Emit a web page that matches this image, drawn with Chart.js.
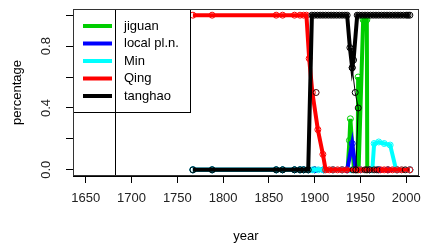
<!DOCTYPE html>
<html>
<head>
<meta charset="utf-8">
<script src="https://cdn.jsdelivr.net/npm/chart.js@4"></script>
<style>
  html, body { margin: 0; padding: 0; background: #fff; }
</style>
</head>
<body>
<canvas id="chart" width="425" height="244"></canvas>
<script>
// tick labels
const xTicks = [1650, 1700, 1750, 1800, 1850, 1900, 1950, 2000];
const yTicks = [0, 0.2, 0.4, 0.6, 0.8, 1.0];
const yTickLabels = ['0.0', '', '0.4', '', '0.8', ''];

const seriesNames = ['jiguan', 'local pl.n.', 'Min', 'Qing', 'tanghao'];
const seriesColors = ['#00cd00', '#0000ff', '#00ffff', '#ff0000', '#000000'];
const refYear = 1682;

// jiguan
const jiguanYears = [1767, 1788, 1858, 1865, 1878, 1884, 1888, 1893, 1900, 1910, 1920, 1930, 1936, 1938, 1939, 1943, 1947, 1947.5, 1948, 1953, 1957, 1957.5, 1960, 1970, 1980, 1990, 2004];
const jiguanValues = [0, 0, 0, 0, 0, 0, 0, 0, 0, 0, 0, 0, 0, 0.19, 0.33, 0, 0, 0.6, 0, 0.97, 0.97, 0, 0, 0, 0, 0, 0];

// local pl.n.
const localYears = [1767, 1788, 1858, 1865, 1878, 1884, 1888, 1893, 1900, 1910, 1920, 1930, 1935.5, 1941, 1945, 1950, 1960, 1970, 1980, 1990, 2004];
const localValues = [0, 0, 0, 0, 0, 0, 0, 0, 0, 0, 0, 0, 0, 0.17, 0, 0, 0, 0, 0, 0, 0];

// Min
const minYears = [1767, 1788, 1858, 1865, 1878, 1884, 1888, 1893, 1898, 1904, 1910, 1920, 1930, 1940, 1950, 1963, 1965, 1970, 1976, 1982.5, 1989, 1995, 2004];
const minValues = [0, 0, 0, 0, 0, 0, 0, 0, 0, 0, 0, 0, 0, 0, 0, 0, 0.17, 0.18, 0.17, 0.16, 0, 0, 0];

// Qing
const qingYears = [1767, 1788, 1858, 1865, 1878, 1884, 1888, 1891, 1894, 1897.5, 1903.5, 1909, 1912, 1916, 1920, 1925, 1930, 1935, 1942, 1946, 1950, 1955, 1957, 1960, 1965, 1968, 1972, 1976, 1980, 1985, 1990, 1995, 1999, 2004];
const qingValues = [1, 1, 1, 1, 1, 1, 1, 1, 0.72, 0.5, 0.26, 0.1, 0, 0, 0, 0, 0, 0, 0, 0, 0, 0, 0, 0, 0, 0, 0, 0, 0, 0, 0, 0, 0, 0];
const qingDarkPoints = [1942, 1955, 1957, 1960, 1965, 1968, 1999];

// tanghao
const tanghaoYears = [1767, 1788, 1858, 1865, 1878, 1884, 1888, 1893, 1897, 1900, 1903, 1906, 1909, 1912, 1915, 1918, 1921, 1924, 1927, 1930, 1933, 1935.5, 1938.5, 1941, 1942.5, 1946.5, 1949, 1952, 1955, 1958, 1961, 1964, 1967, 1970, 1973, 1976, 1979, 1982, 1985, 1988, 1991, 1994, 1997, 2000, 2002, 2004];
const tanghaoValues = [0, 0, 0, 0, 0, 0, 0, 0, 1, 1, 1, 1, 1, 1, 1, 1, 1, 1, 1, 1, 1, 1, 0.79, 0.66, 0.71, 1, 1, 1, 1, 1, 1, 1, 1, 1, 1, 1, 1, 1, 1, 1, 1, 1, 1, 1, 1, 1];

// thin extra trace (loose points)
const extraYears = [1901.6, 1901.6, 1941, 1944.3, 1947.6, 1945];
const extraValues = [0.5, null, 0.66, 0.5, 0.4, 0];

function pts(xs, ys) {
  return xs.map((x, i) => ({ x, y: ys[i] }));
}

const FONT = '"Liberation Sans", Arial, Helvetica, sans-serif';
Chart.defaults.font.family = FONT;
Chart.defaults.font.size = 13;
Chart.defaults.color = '#000';

function seriesDataset(i, xs, ys, order) {
  return {
    label: seriesNames[i],
    data: pts(xs, ys),
    borderColor: seriesColors[i],
    borderWidth: 4,
    pointRadius: 3,
    pointBorderWidth: 1,
    pointBorderColor: seriesColors[i],
    pointBackgroundColor: 'rgba(0,0,0,0)',
    tension: 0,
    order
  };
}

const qingSet = seriesDataset(3, qingYears, qingValues, 2);
qingSet.pointBorderColor = c => (c.raw && qingDarkPoints.includes(c.raw.x)) ? '#300000' : '#ff0000';

const rBox = {
  id: 'rBox',
  afterDraw(chart) {
    const { ctx, chartArea: a, scales } = chart;
    ctx.save();
    // legend box
    const lx = a.left, ly = a.top, lw = 117, lh = 103;
    ctx.fillStyle = '#fff';
    ctx.fillRect(lx, ly, lw, lh);
    ctx.strokeStyle = '#000';
    ctx.lineWidth = 1;
    ctx.strokeRect(lx + 0.5, ly + 0.5, lw, lh);
    ctx.font = '13px ' + FONT;
    ctx.textBaseline = 'middle';
    seriesNames.forEach((name, i) => {
      const y = ly + 17 + i * 17.5;
      ctx.strokeStyle = seriesColors[i];
      ctx.lineWidth = 4;
      ctx.beginPath();
      ctx.moveTo(lx + 10, y);
      ctx.lineTo(lx + 39, y);
      ctx.stroke();
      ctx.fillStyle = '#000';
      ctx.fillText(name, lx + 51, y);
    });
    // reference line
    const vx = Math.round(scales.x.getPixelForValue(refYear)) + 0.5;
    ctx.strokeStyle = '#000';
    ctx.lineWidth = 1;
    ctx.beginPath();
    ctx.moveTo(vx, a.top);
    ctx.lineTo(vx, a.bottom);
    ctx.stroke();
    // plot box
    ctx.strokeStyle = '#333';
    ctx.strokeRect(a.left + 0.5, a.top + 0.5, a.width - 1, a.height - 1);
    ctx.restore();
  }
};

new Chart(document.getElementById('chart'), {
  type: 'line',
  data: {
    datasets: [
      seriesDataset(0, jiguanYears, jiguanValues, 5),
      seriesDataset(1, localYears, localValues, 4),
      seriesDataset(2, minYears, minValues, 3),
      qingSet,
      seriesDataset(4, tanghaoYears, tanghaoValues, 1),
      {
        label: 'extra',
        data: pts(extraYears, extraValues),
        borderColor: '#000',
        borderWidth: 1,
        pointRadius: 3,
        pointBorderWidth: 1,
        pointBorderColor: ['#400000', '#000', '#000', '#000', '#000', '#000'],
        pointBackgroundColor: 'rgba(0,0,0,0)',
        spanGaps: false,
        order: 0
      }
    ]
  },
  plugins: [rBox],
  options: {
    responsive: false,
    animation: false,
    layout: { padding: { left: 0, right: 6, top: 9, bottom: 0 } },
    plugins: { legend: { display: false }, tooltip: { enabled: false } },
    scales: {
      x: {
        type: 'linear',
        min: 1636,
        max: 2014,
        afterBuildTicks: s => { s.ticks = xTicks.map(v => ({ value: v })); },
        afterFit: s => { s.height = 68; s.paddingLeft = 0; s.paddingRight = 0; },
        ticks: { padding: 8, color: '#222', autoSkip: false, maxRotation: 0, callback: v => String(v) },
        grid: { drawOnChartArea: false, tickLength: 7, color: '#000' },
        border: { display: true, color: '#000' },
        title: { display: true, text: 'year', padding: { top: 2, bottom: 0 } }
      },
      y: {
        min: -0.04,
        max: 1.04,
        afterBuildTicks: s => { s.ticks = yTicks.map(v => ({ value: v })); },
        afterFit: s => { s.width = 73; s.paddingTop = 0; s.paddingBottom = 0; },
        ticks: {
          padding: 11,
          color: '#222',
          minRotation: 90,
          maxRotation: 90,
          crossAlign: 'center',
          autoSkip: false,
          callback: (v, i) => yTickLabels[i]
        },
        grid: { drawOnChartArea: false, tickLength: 7, color: '#000' },
        border: { display: true, color: '#000' },
        title: { display: true, text: 'percentage', padding: { top: 10, bottom: 0 } }
      }
    }
  }
});
</script>
</body>
</html>
